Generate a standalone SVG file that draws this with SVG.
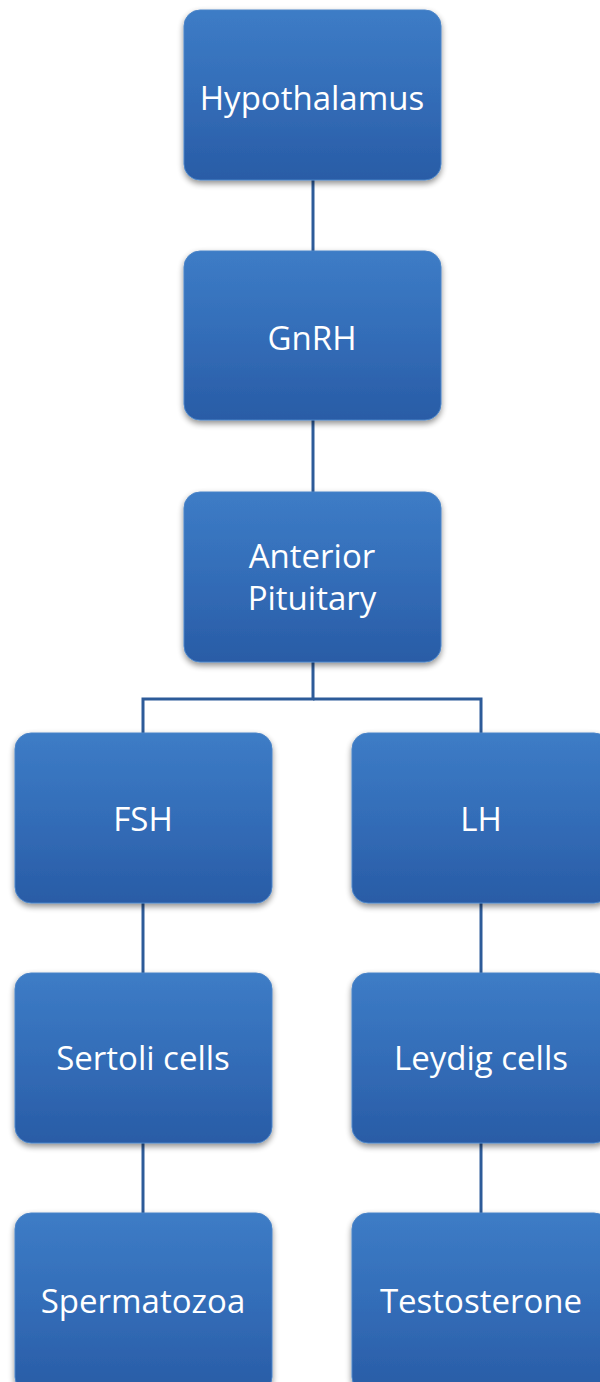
<svg xmlns="http://www.w3.org/2000/svg" width="600" height="1382" viewBox="0 0 600 1382">
<defs>
<linearGradient id="g" x1="0" y1="0" x2="0" y2="1">
<stop offset="0" stop-color="#3d7cc6"/>
<stop offset="0.5" stop-color="#336db8"/>
<stop offset="1" stop-color="#295ca6"/>
</linearGradient>
<filter id="sh" x="-10%" y="-10%" width="120%" height="125%">
<feGaussianBlur in="SourceAlpha" stdDeviation="3"/>
<feOffset dx="0" dy="3" result="b"/>
<feComponentTransfer><feFuncA type="linear" slope="0.45"/></feComponentTransfer>
<feMerge><feMergeNode/><feMergeNode in="SourceGraphic"/></feMerge>
</filter>
</defs>
<style>
.box{fill:url(#g);stroke:#4a84c8;stroke-width:1;filter:url(#sh)}
.t{font-family:"Open Sans","Noto Sans",sans-serif;font-size:33px;fill:#ffffff;text-anchor:middle;dominant-baseline:central}
.c{stroke:#2d5b99;stroke-width:3;fill:none}
</style>
<g id="connectors">
<line class="c" x1="313" y1="180" x2="313" y2="252"/>
<line class="c" x1="313" y1="420" x2="313" y2="492"/>
<polyline class="c" points="313,662 313,699 143,699 143,733"/>
<polyline class="c" points="313,699 481,699 481,733"/>
<line class="c" x1="143" y1="903" x2="143" y2="973"/>
<line class="c" x1="481" y1="903" x2="481" y2="973"/>
<line class="c" x1="143" y1="1143" x2="143" y2="1213"/>
<line class="c" x1="481" y1="1143" x2="481" y2="1213"/>
</g>
<g id="hypothalamus"><rect class="box" x="184" y="10" width="257" height="170" rx="16"/><text class="t" x="312" y="97">Hypothalamus</text></g>
<g id="gnrh"><rect class="box" x="184" y="251" width="257" height="169" rx="16"/><text class="t" x="312" y="337">GnRH</text></g>
<g id="anterior-pituitary"><rect class="box" x="184" y="492" width="257" height="170" rx="16"/><text class="t" x="312" y="555">Anterior</text><text class="t" x="312" y="597">Pituitary</text></g>
<g id="fsh"><rect class="box" x="15" y="733" width="257" height="170" rx="16"/><text class="t" x="143" y="818">FSH</text></g>
<g id="lh"><rect class="box" x="352" y="733" width="258" height="170" rx="16"/><text class="t" x="481" y="818">LH</text></g>
<g id="sertoli"><rect class="box" x="15" y="973" width="257" height="170" rx="16"/><text class="t" x="143" y="1057">Sertoli cells</text></g>
<g id="leydig"><rect class="box" x="352" y="973" width="258" height="170" rx="16"/><text class="t" x="481" y="1057">Leydig cells</text></g>
<g id="spermatozoa"><rect class="box" x="15" y="1213" width="257" height="180" rx="16"/><text class="t" x="143" y="1300">Spermatozoa</text></g>
<g id="testosterone"><rect class="box" x="352" y="1213" width="258" height="180" rx="16"/><text class="t" x="481" y="1300">Testosterone</text></g>
</svg>
